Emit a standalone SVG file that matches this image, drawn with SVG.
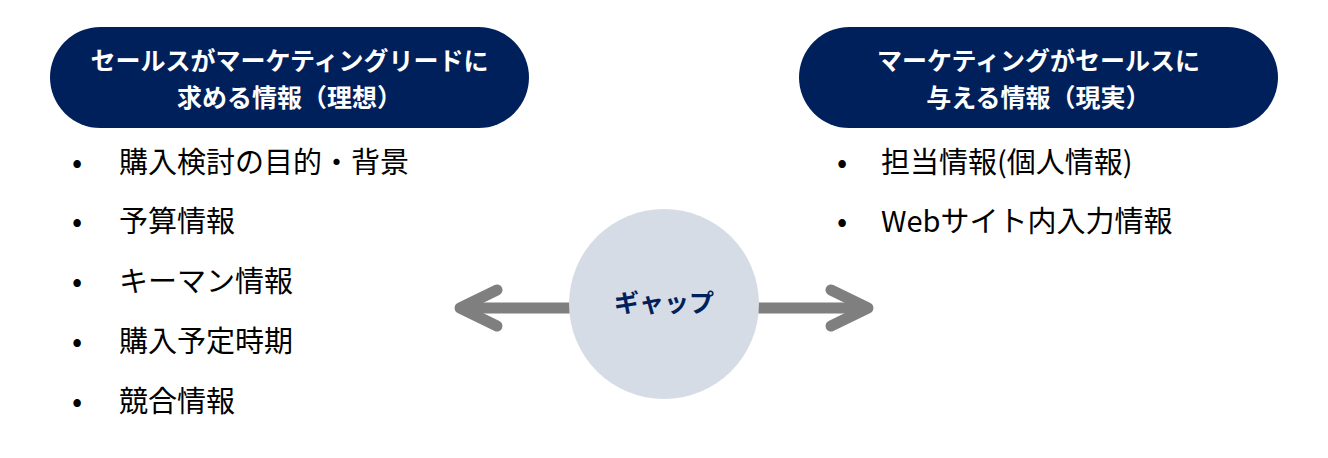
<svg xmlns="http://www.w3.org/2000/svg" width="1328" height="458" viewBox="0 0 1328 458">
  <style>
    .pill { fill: #00205b; }
    .pilltxt { fill: #ffffff; font-family: "Noto Sans CJK JP", "Noto Sans", sans-serif; font-size: 25px; font-weight: 700; text-anchor: middle; }
    .item { fill: #000000; font-family: "Noto Sans CJK JP", "Noto Sans", sans-serif; font-size: 29px; font-weight: 400; }
    .bullet { fill: #000000; font-family: "Noto Sans CJK JP", "Noto Sans", sans-serif; font-size: 30px; text-anchor: middle; }
    .arrow { fill: none; stroke: #7f7f7f; stroke-width: 11; stroke-linecap: round; stroke-linejoin: round; }
    .gaptxt { fill: #00205b; font-family: "Noto Sans CJK JP", "Noto Sans", sans-serif; font-size: 25px; font-weight: 700; text-anchor: middle; }
  </style>
  <rect width="1328" height="458" fill="#ffffff"/>
  <g id="connectors">
    <line class="arrow" x1="600" y1="308" x2="462" y2="308" style="stroke-linecap:butt"/>
    <polyline class="arrow" points="497,290 460,308 497,326"/>
    <line class="arrow" x1="730" y1="308" x2="866" y2="308" style="stroke-linecap:butt"/>
    <polyline class="arrow" points="831,290 868,308 831,326"/>
  </g>
  <g id="ideal">
    <rect class="pill" x="50" y="27" width="479" height="101" rx="50.5"/>
    <text class="pilltxt" x="289.5" y="70">セールスがマーケティングリードに</text>
    <text class="pilltxt" x="289.5" y="107">求める情報（理想）</text>
  </g>
  <g id="ideal-list">
    <text class="bullet" x="77" y="173">•</text>
    <text class="item" x="119" y="173">購入検討の目的・背景</text>
    <text class="bullet" x="77" y="232">•</text>
    <text class="item" x="119" y="232">予算情報</text>
    <text class="bullet" x="77" y="292">•</text>
    <text class="item" x="119" y="292">キーマン情報</text>
    <text class="bullet" x="77" y="352">•</text>
    <text class="item" x="119" y="352">購入予定時期</text>
    <text class="bullet" x="77" y="412">•</text>
    <text class="item" x="119" y="412">競合情報</text>
  </g>
  <g id="reality">
    <rect class="pill" x="799" y="27" width="479" height="101" rx="50.5"/>
    <text class="pilltxt" x="1038.5" y="70">マーケティングがセールスに</text>
    <text class="pilltxt" x="1038.5" y="107">与える情報（現実）</text>
  </g>
  <g id="reality-list">
    <text class="bullet" x="842" y="173">•</text>
    <text class="item" x="881" y="173">担当情報(個人情報)</text>
    <text class="bullet" x="842" y="232">•</text>
    <text class="item" x="881" y="232">Webサイト内入力情報</text>
  </g>
  <g id="gap">
    <circle cx="664" cy="304" r="95" fill="#d6dce5"/>
    <text class="gaptxt" x="664" y="312">ギャップ</text>
  </g>
</svg>
